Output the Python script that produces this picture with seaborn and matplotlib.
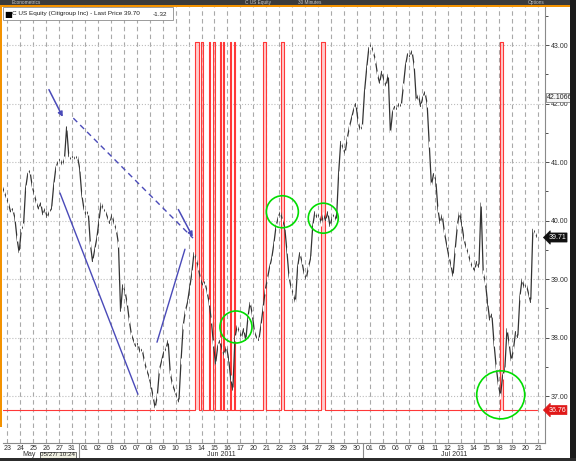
import matplotlib
matplotlib.use("Agg")
import matplotlib.pyplot as plt
from matplotlib.patches import Rectangle
import numpy as np
import seaborn as sns

# trading days shown on the x axis
may_days = ["23", "24", "25", "26", "27", "31"]
jun_days = ["01", "02", "03", "06", "07", "08", "09", "10", "13", "14", "15", "16", "17",
            "20", "21", "22", "23", "24", "27", "28", "29", "30"]
jul_days = ["01", "05", "06", "07", "08", "11", "12", "13", "14", "15", "18", "19", "20", "21"]
month_names = ["May", "Jun 2011", "Jul 2011"]

# C US Equity, 30 minute prices, 6 samples per trading day
may_px = [
    40.60, 40.50, 40.40, 40.30, 40.15, 40.20,
    40.05, 39.70, 39.45, 39.85, 39.90, 40.55,
    40.80, 40.85, 40.60, 40.45, 40.30, 40.20,
    40.30, 40.10, 40.20, 40.05, 40.15, 40.20,
    40.60, 40.90, 41.00, 41.05, 40.95, 41.05,
    41.60, 41.10, 41.05, 41.10, 41.05, 41.10,
]
jun_px = [
    40.90, 40.45, 40.20, 40.10, 40.15, 39.60,
    39.30, 39.50, 39.70, 40.00, 40.30, 40.20,
    40.15, 40.05, 39.95, 40.10, 39.95, 39.85,
    39.60, 38.45, 38.90, 38.80, 38.60, 38.30,
    38.05, 37.95, 37.85, 37.90, 37.75, 37.80,
    37.60, 37.45, 37.35, 37.20, 37.00, 36.80,
    37.00, 37.45, 37.60, 37.75, 37.80, 37.95,
    37.40, 37.20, 37.10, 37.00, 36.90, 37.60,
    38.20, 38.45, 38.60, 38.85, 39.10, 39.45,
    39.35, 39.20, 39.00, 38.90, 38.95, 38.80,
    38.60, 38.30, 37.90, 37.55, 37.85, 37.95,
    37.80, 37.70, 37.85, 37.65, 37.30, 37.10,
    38.00, 38.20, 38.10, 38.00, 38.15, 37.95,
    38.35, 38.60, 38.40, 38.10, 38.00, 37.95,
    38.20, 38.50, 38.80, 39.00, 39.20, 39.35,
    39.60, 39.90, 40.05, 40.15, 40.00, 39.90,
    39.50, 39.05, 38.85, 38.75, 38.60, 39.20,
    39.45, 39.30, 39.10, 39.00, 39.20, 39.35,
    39.90, 40.15, 40.05, 40.10, 39.95, 40.10,
    40.00, 40.15, 39.90, 40.05, 40.10, 40.00,
    40.80, 41.35, 41.25, 41.15, 41.40, 41.60,
    41.75, 41.90, 42.00, 41.70, 41.55, 41.60,
]
jul_px = [
    42.20, 42.60, 42.95, 43.00, 42.90, 42.75,
    42.50, 42.35, 42.55, 42.40, 42.30, 42.50,
    41.50, 41.85, 41.95, 41.90, 42.00, 41.95,
    42.30, 42.65, 42.85, 42.80, 42.90, 42.65,
    42.05, 42.15, 41.95, 42.10, 42.20, 42.00,
    41.30, 40.60, 40.80, 40.70, 40.20, 39.95,
    40.10, 39.80, 39.60, 39.40, 39.25, 39.05,
    39.50, 39.90, 40.15, 39.95, 39.70, 39.55,
    39.45, 39.30, 39.20, 39.15, 39.30, 39.20,
    40.30, 39.10, 38.95, 38.60, 38.30, 38.40,
    37.90, 37.50, 37.20, 37.00, 37.35, 37.45,
    38.15, 37.90, 37.60, 37.80, 38.10, 38.00,
    38.70, 39.00, 38.85, 38.90, 38.75, 38.60,
    39.85, 39.80, 39.71,
]
samples_per_day = 6

# red signal study, spans (in trading days) where it is switched on
signal_on = [15.03, 15.46, 16.04, 16.39, 16.93, 17.12, 17.70, 17.97, 20.25, 21.60, 24.76, 38.55]
signal_off = [15.30, 15.61, 16.15, 16.54, 17.00, 17.27, 17.78, 18.12, 20.48, 21.87, 25.00, 38.76]
signal_low = 36.76
signal_high = 43.06

last_price = 39.71
ref_level = 42.1066

# green circles drawn on the chart
circle_day = [18.16, 21.74, 24.90, 38.60]
circle_price = [38.18, 40.15, 40.04, 37.02]
circle_radius_px = [16, 16, 15, 24]

# blue hand drawn lines: [day0, price0, day1, price1]
arrow_top = [3.62, 42.28, 4.88, 41.73]
arrow_mid = [13.61, 40.23, 14.92, 39.68]
dashed_line = [5.60, 41.75, 14.84, 39.70]
solid_down = [4.57, 40.47, 10.59, 37.03]
solid_up = [12.06, 37.92, 14.22, 39.51]

W, H = 576, 461
sns.set_style("white")
plt.rcParams['font.family'] = ['Liberation Sans', 'DejaVu Sans']

fig = plt.figure(figsize=(W / 100, H / 100), dpi=100)
fig.patch.set_facecolor("white")
ax = fig.add_axes([3 / W, 18 / H, 542 / W, 436 / H])

prices = may_px + jun_px + jul_px
t = [i // samples_per_day + (i % samples_per_day + 0.5) / samples_per_day for i in range(len(prices))]

# signal step line with pink fill
xs, ys = [t[0]], [signal_low]
for a, b in zip(signal_on, signal_off):
    xs += [a, a, b, b]
    ys += [signal_low, signal_high, signal_high, signal_low]
    ax.fill_between([a, b], signal_low, signal_high, color="#ffb8b8", alpha=0.7, lw=0, zorder=1)
xs.append(t[-1])
ys.append(signal_low)
ax.plot(xs, ys, color="#ff3838", lw=0.8, zorder=2)

sns.lineplot(x=t, y=prices, ax=ax, color="#333333", lw=0.9, estimator=None, sort=False,
             marker="|", markersize=4, markeredgewidth=0.8, zorder=3)

# annotations
blue = "#4a4ab8"
for a in (arrow_top, arrow_mid):
    ax.annotate("", xy=(a[2], a[3]), xytext=(a[0], a[1]),
                arrowprops=dict(arrowstyle="-|>", color=blue, lw=1.1, mutation_scale=7), zorder=5)
ax.plot(dashed_line[0::2], dashed_line[1::2], color=blue, lw=1.0, ls=(0, (4, 3)), zorder=5)
for s in (solid_down, solid_up):
    ax.plot(s[0::2], s[1::2], color=blue, lw=1.0, zorder=5)

ax.scatter(circle_day, circle_price, s=[(2 * r * 0.72) ** 2 for r in circle_radius_px],
           facecolors="none", edgecolors="#00dd00", linewidths=1.2, zorder=6)

# axes, ticks, grid
n_days = len(may_days) + len(jun_days) + len(jul_days)
ax.set_xlim(0.17, 42.02)
ax.set_ylim(36.197, 43.65)
ax.set_xticks(np.arange(n_days) + 0.5)
ax.set_xticklabels(may_days + jun_days + jul_days)
ax.tick_params(axis="x", length=0, pad=1.2, labelsize=5, labelcolor="#303030")
ax.yaxis.tick_right()
ax.set_yticks(np.arange(37, 44))
ax.set_yticklabels([f"{v:.2f}" for v in np.arange(37, 44)])
ax.set_yticks(np.arange(37.5, 43.6, 1.0), minor=True)
ax.tick_params(axis="y", which="both", direction="out", length=3, width=0.7,
               color="#505050", labelsize=5, labelcolor="#303030", pad=1)
ax.tick_params(axis="y", which="minor", length=2)
ax.grid(axis="y", ls=":", color="#bdbdbd", lw=0.8)
ax.grid(axis="x", ls=(0, (4, 3)), color="#a9a9a9", lw=0.8)
for side in ("left", "top"):
    ax.spines[side].set_visible(False)
for side in ("right", "bottom"):
    ax.spines[side].set_color("#8a8a8a")
    ax.spines[side].set_linewidth(0.8)

# month row under the dates
xt = ax.get_xaxis_transform()
month_start = [0, len(may_days), len(may_days) + len(jun_days), n_days]
for k, name in enumerate(month_names):
    mid = (month_start[k] + month_start[k + 1]) / 2
    if k == 0:
        mid = 2.2
    ax.text(mid, -0.0275, name, transform=xt, fontsize=5, color="#303030",
            ha="center", va="center", clip_on=False)
for b in month_start[1:3]:
    ax.plot([b, b], [0, -0.04], transform=xt, color="#8a8a8a", lw=0.8, clip_on=False)
ax.text(4.4, -0.0275, "05/27/ 10:24", transform=xt, fontsize=4.5, color="#202020",
        ha="center", va="center", clip_on=False,
        bbox=dict(boxstyle="square,pad=0.1", fc="#f2f2e4", ec="#404040", lw=0.5))

# value flags on the price axis
yt = ax.get_yaxis_transform()
ax.text(1.004, ref_level, f"{ref_level:.4f}", transform=yt, fontsize=5, color="#202020",
        ha="left", va="center", clip_on=False,
        bbox=dict(boxstyle="square,pad=0.12", fc="#f6f6f6", ec="#707070", lw=0.5))
ax.text(1.006, last_price, f"{last_price:.2f}", transform=yt, fontsize=5, color="white",
        ha="left", va="center", clip_on=False, zorder=10,
        bbox=dict(boxstyle="larrow,pad=0.15", fc="#111111", ec="#111111", lw=0.5))
ax.text(1.006, signal_low, f"{signal_low:.2f}", transform=yt, fontsize=5, color="white",
        ha="left", va="center", clip_on=False, zorder=10,
        bbox=dict(boxstyle="larrow,pad=0.15", fc="#e01818", ec="#e01818", lw=0.5))

# window chrome
def px_rect(x, y, w, h, color, **kw):
    fig.patches.append(Rectangle((x / W, 1 - (y + h) / H), w / W, h / H,
                                 transform=fig.transFigure, fc=color, lw=0, **kw))

px_rect(0, 0, W, 5, "#3b3b3b")
px_rect(0, 5, W, 2, "#f39200")
px_rect(0, 5, 2, 422, "#f39200")
px_rect(570, 0, 6, H, "#1c1c1c")
px_rect(0, 458, W, 3, "#2c2c2c")
for x, label in [(12, "Econometrics"), (245, "C US Equity"), (298, "30 Minutes"), (528, "Options")]:
    fig.text(x / W, 1 - 2.6 / H, label, fontsize=3.4, color="#c8c8c8", va="center")

# legend box
fig.patches.append(Rectangle((2.5 / W, 1 - 20 / H), 170 / W, 12.5 / H, transform=fig.transFigure,
                             fc="white", ec="#8c8c8c", lw=0.6, zorder=4))
fig.text(4.5 / W, 1 - 14 / H, "\u25a0", fontsize=6, color="black", va="center", zorder=5,
         family=["DejaVu Sans"])
fig.text(12 / W, 1 - 14 / H, "C US Equity (Citigroup Inc) - Last Price 39.70", fontsize=4.6,
         color="#202020", va="center", zorder=5)
fig.text(153 / W, 1 - 14 / H, "-1.32", fontsize=4.6, color="#202020", va="center", zorder=5)

fig.savefig("out.png", dpi=100)
